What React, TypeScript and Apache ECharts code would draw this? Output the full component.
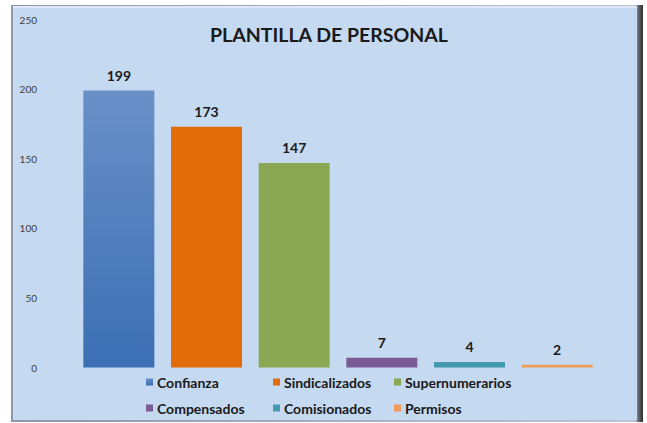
import React, { useEffect, useRef } from "react";
import * as echarts from "echarts";

const categories = ["Confianza", "Sindicalizados", "Supernumerarios", "Compensados", "Comisionados", "Permisos"];
const values = [199, 173, 147, 7, 4, 2];
const yTicks = [0, 50, 100, 150, 200, 250];
const chartTitle = "PLANTILLA DE PERSONAL";

const FONT = "Lato";

const barColors: any[] = [
  new echarts.graphic.LinearGradient(0, 0, 0, 1, [
    { offset: 0, color: "#6a90c8" },
    { offset: 1, color: "#3b6fb4" },
  ]),
  "#e36c0a",
  "#8aa853",
  "#7a5b96",
  "#4399b0",
  "#ef9a5a",
];

// legend column positions (left, top)
const legendPos = [
  [146, 375],
  [273, 375],
  [394, 375],
  [146, 401],
  [273, 401],
  [394, 401],
];

export default function App() {
  const ref = useRef<HTMLDivElement>(null);
  useEffect(() => {
    if (!ref.current) return;
    const chart = echarts.init(ref.current, null, { renderer: "svg" });
    const series = categories.map((name, i) => ({
      name,
      type: "bar",
      stack: "all",
      barCategoryGap: "19%",
      data: values.map((v, j) => (j === i ? v : "-")),
      itemStyle: { color: barColors[i] },
      label: {
        show: true,
        position: "top",
        distance: 8,
        fontFamily: FONT,
        fontWeight: "bold",
        fontSize: 14,
        color: "#1a1a1a",
        formatter: (p: any) => (p.value === "-" ? "" : String(p.value)),
      },
    }));
    const legends = categories.map((name, i) => ({
      data: [name],
      left: legendPos[i][0],
      top: legendPos[i][1],
      itemWidth: 7,
      itemHeight: 7,
      itemGap: 0,
      padding: 0,
      icon: "rect",
      selectedMode: false,
      textStyle: {
        fontFamily: FONT,
        fontWeight: "bold",
        fontSize: 14,
        color: "#1a1a1a",
        padding: [0, 0, 0, -1],
      },
    }));
    chart.setOption({
      animation: false,
      backgroundColor: "#ffffff",
      title: {
        text: chartTitle,
        left: 205,
        top: 19,
        textStyle: {
          fontFamily: FONT,
          fontWeight: "bold",
          fontSize: 19.5,
          color: "#1a1a1a",
        },
      },
      graphic: {
        elements: [
          {
            type: "rect",
            z: -10,
            shape: { x: 11, y: 5, width: 632, height: 417 },
            style: {
              fill: new echarts.graphic.LinearGradient(1, 0, 0, 0, [
                { offset: 0, color: "#2f2f2f" },
                { offset: 0.008, color: "#6a6f78" },
                { offset: 0.012, color: "#b8c6d8" },
                { offset: 1, color: "#8d98a8" },
              ]),
            },
          },
          {
            type: "rect",
            z: -9,
            shape: { x: 13, y: 6, width: 624, height: 414 },
            style: { fill: "#c5d9f1" },
          },
          {
            type: "rect",
            z: -8,
            shape: { x: 13, y: 6, width: 624, height: 2 },
            style: { fill: "#dfe9f6" },
          },
        ],
      },
      legend: legends,
      grid: { left: 75, right: 46, top: 19.5, bottom: 55.5, containLabel: false },
      xAxis: {
        type: "category",
        data: categories,
        axisLine: { show: false },
        axisTick: { show: false },
        axisLabel: { show: false },
      },
      yAxis: {
        type: "value",
        min: yTicks[0],
        max: yTicks[yTicks.length - 1],
        interval: 50,
        splitLine: { show: false },
        axisLine: { show: false },
        axisTick: { show: false },
        axisLabel: {
          margin: 38,
          fontFamily: FONT,
          fontSize: 10,
          color: "#404040",
        },
      },
      series,
    });
    return () => chart.dispose();
  }, []);
  return (
    <div
      ref={ref}
      style={{ position: "fixed", left: 0, top: 0, width: 647, height: 423 }}
    />
  );
}
